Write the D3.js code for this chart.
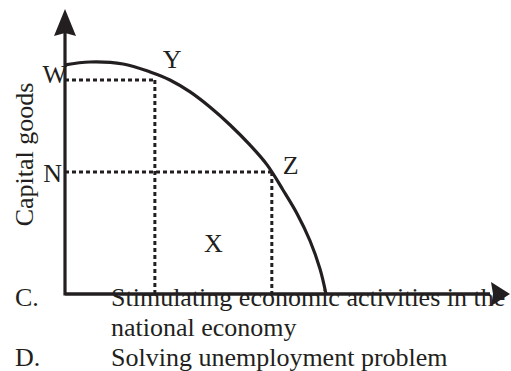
<!DOCTYPE html>
<html>
<head>
<meta charset="utf-8">
<script src="https://cdn.jsdelivr.net/npm/d3@7"></script>
<style>
  body { margin: 0; background: #fff; }
  text { font-family: "Liberation Serif", "Times New Roman", serif; fill: #231f20; }
</style>
</head>
<body>
<div id="chart"></div>
<script>
// production possibility curve (consumer goods on x, capital goods on y)
var curveX = [0, 0.58, 1.35, 1.98, 2.44, 2.91, 3.37, 3.84, 4.30, 4.70, 5.07, 5.40, 5.70, 5.93, 6.07];
var curveY = [8.04, 8.14, 8.07, 7.79, 7.51, 7.09, 6.56, 5.93, 5.23, 4.53, 3.65, 2.81, 1.86, 0.88, 0];

// marked points on the curve
var pointNames = ["Y", "Z"];
var pointX = [2.09, 4.81];
var pointY = [7.51, 4.28];
var levelNames = ["W", "N"];

var axisLabel = "Capital goods";
var answerKeys = ["C.", "", "D."];
var answerLines = ["Stimulating economic activities in the", "national economy", "Solving unemployment problem"];

var W = 511, H = 371;
var ink = "#231f20";
var fs = "26px";

var svg = d3.select("#chart")
  .append("svg")
    .attr("width", W)
    .attr("height", H);

var x = d3.scaleLinear().domain([0, 10]).range([65, 495]);
var y = d3.scaleLinear().domain([0, 10]).range([294, 9]);

// dotted guide lines
var dots = svg.append("g")
  .attr("stroke", ink)
  .attr("stroke-width", 3)
  .attr("stroke-dasharray", "4,3")
  .attr("fill", "none");

pointX.forEach(function(px, i) {
  dots.append("line")
    .attr("x1", x(0)).attr("y1", y(pointY[i]))
    .attr("x2", x(px)).attr("y2", y(pointY[i]));
  dots.append("line")
    .attr("x1", x(px)).attr("y1", y(pointY[i]))
    .attr("x2", x(px)).attr("y2", y(0));
});

// the curve
var pts = curveX.map(function(v, i) { return [v, curveY[i]]; });
var line = d3.line()
  .x(function(d) { return x(d[0]); })
  .y(function(d) { return y(d[1]); })
  .curve(d3.curveCatmullRom.alpha(0.5));

svg.append("path")
  .attr("d", line(pts))
  .attr("fill", "none")
  .attr("stroke", ink)
  .attr("stroke-width", 3.2);

// axes
var axes = svg.append("g");
axes.append("path")
  .attr("d", "M" + x(0) + "," + (y(10) + 20) + "V" + y(0) + "H" + (x(10) - 5))
  .attr("fill", "none")
  .attr("stroke", ink)
  .attr("stroke-width", 3.2);

// arrow heads
var tx = x(0), ty = y(10);
axes.append("path")
  .attr("d", "M" + tx + "," + ty + "L" + (tx + 11) + "," + (ty + 27) + "L" + tx + "," + (ty + 24) + "L" + (tx - 11) + "," + (ty + 27) + "Z")
  .attr("fill", ink);
var rx = x(10) + 15, ry = y(0);
axes.append("path")
  .attr("d", "M" + rx + "," + ry + "L" + (rx - 19) + "," + (ry - 12) + "L" + (rx - 17) + "," + ry + "L" + (rx - 19) + "," + (ry + 12) + "Z")
  .attr("fill", ink);

// labels
svg.append("text")
  .attr("transform", "translate(33," + ((y(0) + y(10)) / 2 + 3) + ") rotate(-90)")
  .attr("text-anchor", "middle")
  .style("font-size", fs)
  .text(axisLabel);

svg.selectAll(".lvl")
  .data(levelNames)
  .enter()
  .append("text")
    .attr("class", "lvl")
    .attr("x", function(d, i) { return i == 0 ? x(0) + 2 : x(0) - 3; })
    .attr("y", function(d, i) { return y(pointY[i]) + (i == 0 ? 3 : 10); })
    .attr("text-anchor", "end")
    .style("font-size", fs)
    .text(function(d) { return d; });

svg.selectAll(".pt")
  .data(pointNames)
  .enter()
  .append("text")
    .attr("class", "pt")
    .attr("x", function(d, i) { return i == 0 ? x(pointX[i]) + 8 : x(pointX[i]) + 11; })
    .attr("y", function(d, i) { return i == 0 ? y(pointY[i]) - 12 : y(pointY[i]) + 2; })
    .style("font-size", fs)
    .text(function(d) { return d; });

svg.append("text")
  .attr("x", (x(pointX[0]) + x(pointX[1])) / 2)
  .attr("y", 252)
  .attr("text-anchor", "middle")
  .style("font-size", fs)
  .text("X");

// answer text below the chart
var rowY = [306, 336, 366];
answerLines.forEach(function(t, i) {
  svg.append("text")
    .attr("x", 15).attr("y", rowY[i])
    .style("font-size", fs)
    .text(answerKeys[i]);
  svg.append("text")
    .attr("x", 111).attr("y", rowY[i])
    .style("font-size", fs)
    .text(t);
});

// the axis line runs over the first answer line
svg.append("line")
  .attr("x1", x(0)).attr("y1", y(0))
  .attr("x2", x(10) - 5).attr("y2", y(0))
  .attr("stroke", ink)
  .attr("stroke-width", 3.2);
</script>
</body>
</html>
